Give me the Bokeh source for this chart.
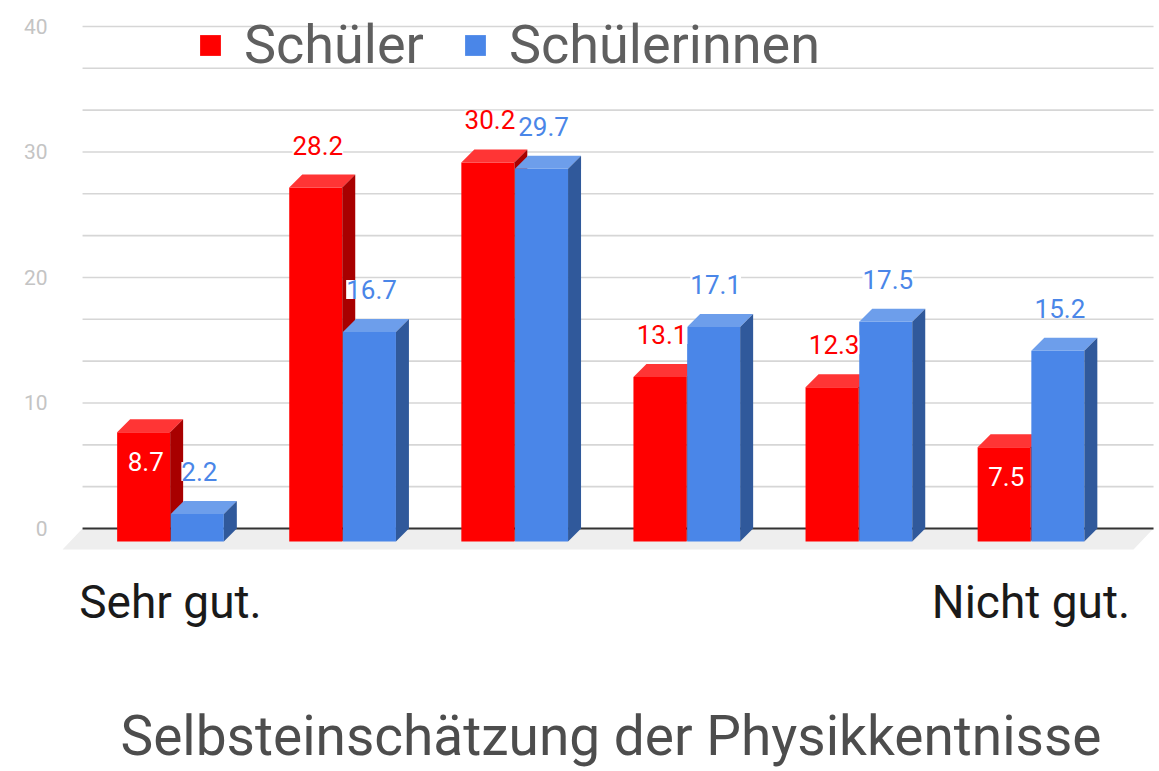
from bokeh.plotting import figure
from bokeh.models import Range1d, FixedTicker, Legend, LegendItem
from bokeh.core.properties import value
from bokeh.embed import file_html
from bokeh.resources import INLINE

# ---- data ----
categories = ["Sehr gut.", "", "", "", "", "Nicht gut."]
series_names = ["Schüler", "Schülerinnen"]
schueler = [8.7, 28.2, 30.2, 13.1, 12.3, 7.5]
schuelerinnen = [2.2, 16.7, 29.7, 17.1, 17.5, 15.2]
y_ticks = [0, 10, 20, 30, 40]
red_label_inside = [True, False, False, False, False, True]
title_text = "Selbsteinschätzung der Physikkentnisse"

# ---- style ----
FONT = "Roboto"
RED = ("#ff0000", "#ff3535", "#a80000")     # front, top, side
BLUE = ("#4a86e8", "#6d9eeb", "#30599b")
BAR_W = 0.308
GAP = 0.002
DX = 0.0755   # 3D depth in x units
DY = 1.036    # 3D depth in y units
LBL_OFF = 2.35

W, H = 1159, 771
p = figure(width=W, height=H, output_backend="svg", toolbar_location=None,
           x_range=Range1d(-0.6275, 5.7467), y_range=Range1d(-2.55, 42.07),
           min_border_left=62, min_border_right=0, min_border_top=0,
           min_border_bottom=211)
p.outline_line_color = None
p.xgrid.visible = False
p.ygrid.visible = False
p.background_fill_color = "white"
p.border_fill_color = "white"

n = len(categories)
xl, xr = -0.511, 5.712

# floor
p.patch([-0.6275, 5.5956, xr, xl], [-1.67, -1.67, 0, 0], color="#eeeeee", line_color=None)

# gridlines (3 per major step)
grid_y = [k * 10 / 3 for k in range(1, 13)]
p.segment(x0=[xl] * len(grid_y), x1=[xr] * len(grid_y), y0=grid_y, y1=grid_y,
          line_color="#d6d6d6", line_width=1.6)
p.segment(x0=[xl], x1=[xr], y0=[0], y1=[0], line_color="#333333", line_width=2)


def bars3d(vals, offset, cols):
    x0 = [i + offset for i in range(n)]
    x1 = [a + BAR_W for a in x0]
    front = p.quad(left=x0, right=x1, bottom=[-DY] * n, top=[v - DY for v in vals],
                   fill_color=cols[0], line_color=None)
    top_xs = [[a, b, b + DX, a + DX] for a, b in zip(x0, x1)]
    top_ys = [[v - DY, v - DY, v, v] for v in vals]
    p.patches(top_xs, top_ys, fill_color=cols[1], line_color=None)
    side_xs = [[b, b, b + DX, b + DX] for b in x1]
    side_ys = [[-DY, v - DY, v, 0] for v in vals]
    p.patches(side_xs, side_ys, fill_color=cols[2], line_color=None)
    return front, x0, x1


red_front, rx0, rx1 = bars3d(schueler, -BAR_W - GAP, RED)
blue_front, bx0, bx1 = bars3d(schuelerinnen, GAP, BLUE)


def labels(vals, x0, x1, color, inside):
    out_x, out_y, out_t, in_x, in_y, in_t = [], [], [], [], [], []
    for v, a, b, ins in zip(vals, x0, x1, inside):
        cx = (a + b) / 2 + 0.012
        if ins:
            in_x.append(cx); in_y.append(v - DY - LBL_OFF); in_t.append(f"{v:.1f}")
        else:
            out_x.append(cx); out_y.append(v + LBL_OFF); out_t.append(f"{v:.1f}")
    if out_x:
        p.text(out_x, out_y, text=out_t, text_color=color, text_font=value(FONT),
               text_font_size="26px", text_align="center", text_baseline="middle",
               background_fill_color="white", padding=0)
    if in_x:
        p.text(in_x, in_y, text=in_t, text_color="white", text_font=value(FONT),
               text_font_size="26px", text_align="center", text_baseline="middle")


labels(schueler, rx0, rx1, "#ff0000", red_label_inside)
labels(schuelerinnen, bx0, bx1, "#4a86e8", [False] * n)

# axes
ya = p.yaxis[0]
ya.ticker = FixedTicker(ticks=y_ticks)
ya.axis_line_color = None
ya.major_tick_line_color = None
ya.minor_tick_line_color = None
ya.major_tick_out = 0
ya.major_tick_in = 0
ya.minor_tick_out = 0
ya.major_label_standoff = 15
ya.major_label_text_font = FONT
ya.major_label_text_font_size = "21px"
ya.major_label_text_color = "#c4c4c4"

xa = p.xaxis[0]
xa.ticker = FixedTicker(ticks=list(range(n)))
xa.major_label_overrides = {i: c for i, c in enumerate(categories)}
xa.axis_line_color = None
xa.major_tick_line_color = None
xa.minor_tick_line_color = None
xa.major_tick_out = 0
xa.major_tick_in = 0
xa.minor_tick_out = 0
xa.major_label_standoff = 14
xa.major_label_text_font = FONT
xa.major_label_text_font_size = "46px"
xa.major_label_text_color = "#1a1a1a"
xa.axis_label = title_text
xa.axis_label_standoff = 72
xa.axis_label_text_font = FONT
xa.axis_label_text_font_size = "55px"
xa.axis_label_text_font_style = "normal"
xa.axis_label_text_color = "#4d4d4d"

legend = Legend(items=[LegendItem(label=series_names[0], renderers=[red_front]),
                       LegendItem(label=series_names[1], renderers=[blue_front])],
                orientation="horizontal", location=(135, 484),
                label_text_font=FONT, label_text_font_size="54px",
                label_text_color="#5f5f5f", glyph_width=26, glyph_height=26,
                label_standoff=21, spacing=38, padding=0, margin=0,
                border_line_color=None, background_fill_alpha=0)
p.add_layout(legend)

open("out.html", "w").write(file_html(p, INLINE))
